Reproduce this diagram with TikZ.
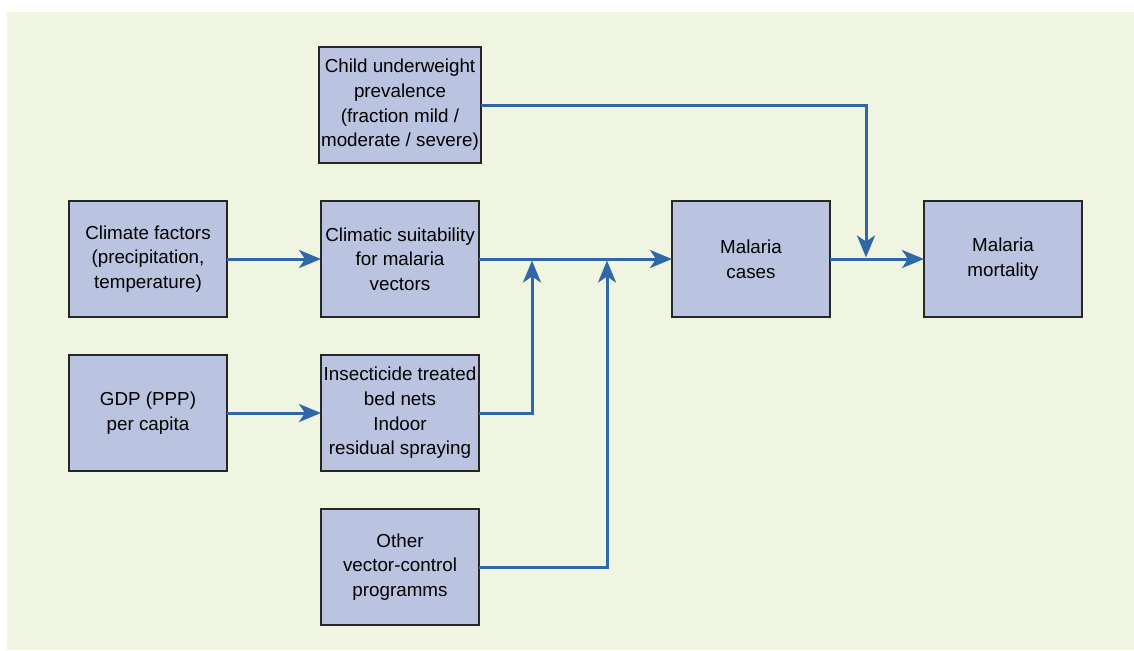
\documentclass[tikz,border=0pt]{standalone}
\usepackage{fontspec}
\setmainfont{Liberation Sans}
\usepackage{tikz}
\usetikzlibrary{arrows.meta, calc, positioning}
\definecolor{panel-green}{RGB}{240,245,226}
\definecolor{box-blue}{RGB}{186,195,224}
\definecolor{arrow-blue}{RGB}{47,103,168}
\tikzset{%
    edge/.style={%
        ->,
        >={Stealth[length=11pt, width=9pt, inset=3pt]},
        draw=arrow-blue,
        line width=1.5pt,
    },
    factor/.style={%
        rectangle,
        fill=box-blue,
        draw=black!85, line width=0.75pt,
        minimum width=79pt,
        minimum height=58pt,
        inner sep=1pt,
        outer sep=0pt,
        text=black,
        font=\fontsize{9.4}{12.3}\selectfont,
        align=center,
    },
}
\begin{document}
\begin{tikzpicture}[x=0.5pt, y=-0.5pt, node distance=19pt and 47pt]
  \useasboundingbox (0,0) rectangle (1134,650);
  \fill[panel-green] (7,12) rectangle (1134,650);

  \coordinate (mid_column) at (400, 259);

  \node [factor] at (mid_column) (climatic) {Climatic suitability\\for malaria\\vectors};
  \node [factor, above=of climatic] (child) {Child underweight\\prevalence\\(fraction mild /\\moderate / severe)};
  \node [factor, below=of climatic] (insect) {Insecticide treated\\bed nets\\Indoor\\residual spraying};
  \node [factor, below=of insect] (other) {Other\\vector-control\\programms};
  \node [factor, left=of climatic] (climate) {Climate factors\\(precipitation,\\temperature)};
  \node [factor, left=of insect] (gdp) {GDP (PPP)\\per capita};
  \node [factor, right=96.5pt of climatic] (cases) {Malaria\\cases};
  \node [factor, right=of cases] (mortality) {Malaria\\mortality};

  \coordinate [right=26.5pt of climatic.east] (join_a);
  \coordinate [right=64pt of climatic.east] (join_b);
  \coordinate [right=18pt of cases.east] (join_c);

  \draw[edge] (climate) -- (climatic);
  \draw[edge] (gdp) -- (insect);
  \draw[edge] (climatic) -- (cases);
  \draw[edge] (cases) -- (mortality);

  \draw[edge, shorten >=0.75pt] (insect) -| (join_a);
  \draw[edge, shorten >=0.75pt] (other) -| (join_b);
  \draw[edge, shorten >=0.75pt] (child) -| (join_c);
\end{tikzpicture}
\end{document}
